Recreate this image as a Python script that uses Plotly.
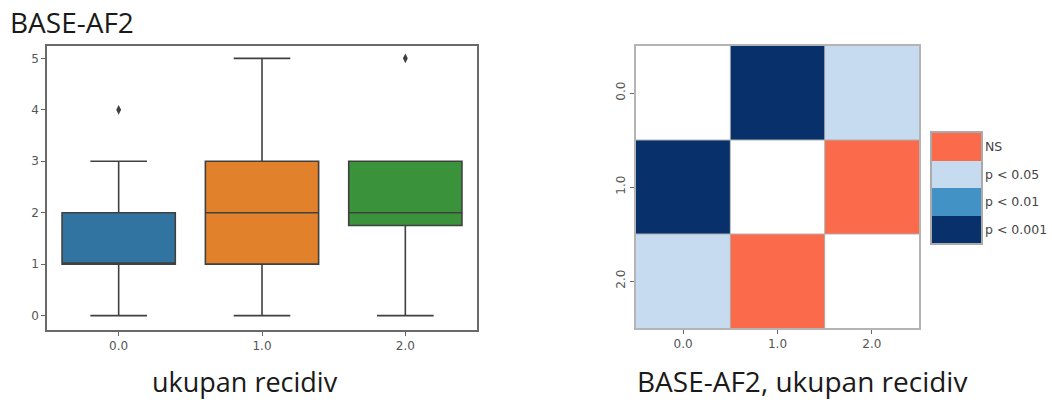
import plotly.graph_objects as go

# ---- data ----
groups = [0.0, 1.0, 2.0]
group_labels = ["0.0", "1.0", "2.0"]
q1 = [1.0, 1.0, 1.75]
median = [1.0, 2.0, 2.0]
q3 = [2.0, 3.0, 3.0]
lowerfence = [0.0, 0.0, 0.0]
upperfence = [3.0, 5.0, 3.0]
outlier_x = [0.0, 2.0]
outlier_y = [4.0, 5.0]
box_colors = ["#3274a1", "#e1812c", "#3a923a"]
y_ticks = [0, 1, 2, 3, 4, 5]

# significance codes: 0 = diagonal, 1 = NS, 2 = p<0.001, 3 = p<0.01, 4 = p<0.05
sig_matrix = [
    [0, 2, 4],
    [2, 0, 1],
    [4, 1, 0],
]
sig_colors = ["#ffffff", "#fb6a4a", "#08306b", "#4292c6", "#c6dbef"]
legend_codes = [1, 4, 3, 2]
legend_labels = ["NS", "p < 0.05", "p < 0.01", "p < 0.001"]

W, H = 1052, 402

def px(x0, x1):
    return [x0 / W, x1 / W]

def py(top, bottom):
    return [1 - bottom / H, 1 - top / H]

fig = go.Figure()

# ---- box plot ----
for i, g in enumerate(groups):
    fig.add_trace(go.Box(
        x=[g], q1=[q1[i]], median=[median[i]], q3=[q3[i]],
        lowerfence=[lowerfence[i]], upperfence=[upperfence[i]],
        width=0.79, whiskerwidth=0.5,
        fillcolor=box_colors[i],
        line=dict(color="#404040", width=1.6),
        boxpoints=False, showlegend=False,
        xaxis="x", yaxis="y", hoverinfo="skip",
    ))
fig.add_trace(go.Scatter(
    x=outlier_x, y=outlier_y, mode="markers",
    marker=dict(symbol="diamond-tall", size=7, color="#3f3f3f"),
    showlegend=False, xaxis="x", yaxis="y",
))

# ---- significance heatmap ----
n = len(sig_colors)
cs = []
for k, c in enumerate(sig_colors):
    cs.append([k / n, c])
    cs.append([(k + 1) / n, c])

fig.add_trace(go.Heatmap(
    z=sig_matrix, x=groups, y=groups,
    colorscale=cs, zmin=-0.5, zmax=n - 0.5, showscale=False,
    xaxis="x2", yaxis="y2", hoverinfo="skip",
))

# cell borders between categories
for i in range(len(groups) - 1):
    b = (groups[i] + groups[i + 1]) / 2
    fig.add_shape(type="line", xref="x2", yref="y2 domain", x0=b, x1=b, y0=0, y1=1,
                  line=dict(color="#b0b0b0", width=1))
    fig.add_shape(type="line", xref="x2 domain", yref="y2", x0=0, x1=1, y0=b, y1=b,
                  line=dict(color="#b0b0b0", width=1))

# ---- legend bar ----
fig.add_trace(go.Heatmap(
    z=[[c] for c in legend_codes], x=[0], y=list(range(len(legend_codes))),
    colorscale=cs, zmin=-0.5, zmax=n - 0.5, showscale=False,
    xaxis="x3", yaxis="y3", hoverinfo="skip",
))

tickfont = dict(family="DejaVu Sans", size=12, color="#555555")

leg_dom = px(932, 981)
annotations = []
for i, lab in enumerate(legend_labels):
    annotations.append(dict(
        text=lab, xref="paper", yref="y3", x=leg_dom[1] + 2 / W, y=i,
        xanchor="left", yanchor="middle", showarrow=False,
        font=dict(family="DejaVu Sans", size=12.5, color="#444444"),
    ))
annotations += [
    dict(text="BASE-AF2", xref="paper", yref="paper", x=8 / W, y=1 - 22 / H,
         xanchor="left", yanchor="middle", showarrow=False,
         font=dict(family="Open Sans", size=28, color="#1a1a1a")),
    dict(text="ukupan recidiv", xref="paper", yref="paper", x=245 / W, y=1 - 381 / H,
         xanchor="center", yanchor="middle", showarrow=False,
         font=dict(family="Open Sans", size=27, color="#1a1a1a")),
    dict(text="BASE-AF2, ukupan recidiv", xref="paper", yref="paper", x=802 / W, y=1 - 381 / H,
         xanchor="center", yanchor="middle", showarrow=False,
         font=dict(family="Open Sans", size=28, color="#1a1a1a")),
]

common = dict(showgrid=False, zeroline=False, showline=True, mirror=True,
              ticks="outside", ticklen=4, tickcolor="#666666", tickfont=tickfont,
              automargin=False)

fig.update_layout(
    width=W, height=H,
    margin=dict(l=0, r=0, t=0, b=0, autoexpand=False),
    paper_bgcolor="white", plot_bgcolor="white",
    xaxis=dict(domain=px(47, 477), range=[-0.5, 2.5], tickvals=groups, ticktext=group_labels,
               linecolor="#6a6a6a", linewidth=1.5, anchor="y", **common),
    yaxis=dict(domain=py(46, 330), range=[-0.28, 5.24], tickvals=y_ticks,
               linecolor="#6a6a6a", linewidth=1.5, anchor="x", **common),
    xaxis2=dict(domain=px(636, 919), range=[-0.5, 2.5], tickvals=groups, ticktext=group_labels,
                linecolor="#b4b4b4", linewidth=1.5, anchor="y2", **common),
    yaxis2=dict(domain=py(46, 328), range=[2.5, -0.5], tickvals=groups, ticktext=group_labels,
                linecolor="#b4b4b4", linewidth=1.5, anchor="x2", tickangle=-90, **common),
    xaxis3=dict(domain=leg_dom, range=[-0.5, 0.5], showticklabels=False, ticks="",
                showgrid=False, zeroline=False, showline=True, mirror=True,
                linecolor="#aaaaaa", linewidth=1.5, anchor="y3", automargin=False),
    yaxis3=dict(domain=py(133, 243), range=[3.5, -0.5], showticklabels=False, ticks="",
                showgrid=False, zeroline=False, showline=True, mirror=True,
                linecolor="#aaaaaa", linewidth=1.5, anchor="x3", automargin=False),
    annotations=annotations,
)

fig.write_html(
    "out.html",
    config={"displayModeBar": False},
    post_script="document.body.style.margin='0';document.body.style.overflow='hidden';",
)
